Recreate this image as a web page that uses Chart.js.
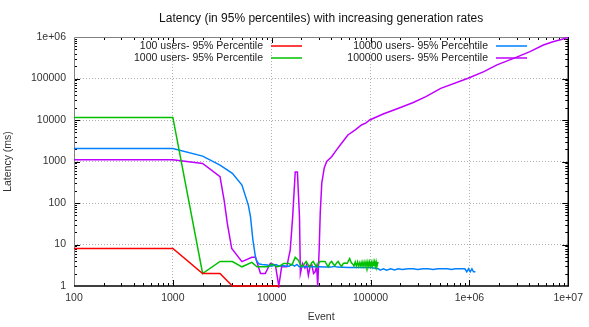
<!DOCTYPE html>
<html lang="en">
<head>
<meta charset="UTF-8">
<title>Latency</title>
<script src="https://cdn.jsdelivr.net/npm/chart.js"></script>
<style>
  html, body { margin: 0; padding: 0; background: #fff; }
  #wrap { width: 589px; height: 327px; }
</style>
</head>
<body>
<div id="wrap"><canvas id="myChart" width="589" height="327"></canvas></div>
<script>
// tick values and labels
var xTicks = [100, 1000, 10000, 100000, 1000000, 10000000];
var xTickLabels = ['100', '1000', '10000', '100000', '1e+06', '1e+07'];
var yTicks = [1, 10, 100, 1000, 10000, 100000, 1000000];
var yTickLabels = ['1', '10', '100', '1000', '10000', '100000', '1e+06'];

var seriesNames = ['100 users- 95% Percentile', '1000 users- 95% Percentile',
                   '10000 users- 95% Percentile', '100000 users- 95% Percentile'];

// 100 users
var redX = [100, 1000, 2000, 3000, 4000, 5000, 6000, 7000, 8000, 9000, 10000, 11000, 12000];
var redY = [8, 8, 2, 2, 1, 1, 1, 1, 1, 1, 1, 1, 1];

// 1000 users
var greenX = [100, 1000, 2000, 3000, 4000, 5000, 6300, 7100, 8000, 9300, 10000, 11200, 12000, 13200,
  14800, 16000, 17300, 18600, 20000, 21000, 22300, 23300, 24300, 25300, 26300, 27400, 28500, 29700,
  30900, 32700, 34600, 36000, 37300, 38800, 40400, 42000, 43600, 45300, 47000, 49000, 51000, 53000,
  55000, 58000, 61500, 64000, 66000, 68000, 70000, 72000, 74000, 76000, 78000, 80000, 82000, 84000,
  86000, 88000, 90000, 92000, 94000, 96000, 98000, 100000, 102000, 104000, 106000, 108000, 110000,
  112000, 114000, 116000, 119000];
var greenY = [11500, 11500, 2, 3.9, 3.9, 2.9, 3.7, 2.9, 2.9, 2.9, 3.4, 2.9, 3.0, 3.5,
  3.5, 3.2, 4.9, 4.2, 2.9, 3.2, 3.9, 3.3, 2.9, 3.6, 3.9, 3.3, 2.9, 3.5,
  3.9, 3.9, 3.9, 3.3, 2.9, 3.6, 3.9, 3.4, 3.1, 3.6, 3.9, 3.3, 3.0, 3.5,
  3.6, 3.5, 4.6, 3.6, 3.4, 3.0, 3.8, 3.0, 3.8, 3.0, 3.7, 3.0, 3.8, 3.0,
  3.8, 3.0, 3.8, 3.0, 3.8, 3.0, 3.8, 3.0, 3.7, 3.0, 3.8, 3.0, 3.8,
  3.0, 3.8, 3.0, 3.8];

// 10000 users
var blueX = [100, 1000, 2000, 3000, 4000, 5000, 5800, 6100, 6450, 6850, 7100, 7500, 8000, 9000,
  10000, 11000, 12000, 13000, 14000, 15000, 16000, 17000, 18000, 19000, 20000, 25000, 30000, 35000,
  40000, 43000, 46000, 60000, 80000, 100000, 120000, 125000, 135000, 145000, 160000, 175000, 190000,
  210000, 240000, 270000, 300000, 340000, 380000, 430000, 480000, 540000, 600000, 660000, 720000,
  780000, 840000, 900000, 940000, 980000, 1020000, 1060000, 1100000, 1150000];
var blueY = [2050, 2050, 1350, 820, 520, 270, 89, 47, 13, 5, 3.85, 3.4, 3.3, 3.2,
  3.0, 3.3, 3.0, 3.1, 3.0, 3.0, 3.3, 3.0, 3.3, 2.9, 2.9, 2.9, 2.9, 2.85,
  2.85, 3.0, 2.85, 2.8, 2.8, 2.8, 2.6, 2.4, 2.6, 2.4, 2.6, 2.45, 2.6,
  2.5, 2.6, 2.6, 2.5, 2.6, 2.6, 2.5, 2.6, 2.6, 2.6, 2.5, 2.6,
  2.6, 2.6, 2.6, 2.2, 2.6, 2.2, 2.6, 2.2, 2.2];

// 100000 users
var purpleX = [100, 1000, 2000, 3000, 3300, 3560, 3940, 5000, 6300, 6850, 7700, 8600, 9700, 10900,
  11800, 12600, 14200, 15400, 16300, 17300, 18200, 19100, 19500, 20500, 21700, 22600, 23500, 24500,
  25500, 26500, 27500, 28500, 29200, 30200, 31000, 32100, 34000, 36000, 40400, 45300, 50000, 59000,
  70000, 81000, 90000, 98000, 134000, 189000, 267000, 363000, 513000, 955000, 1400000, 1900000,
  2800000, 4100000, 5600000, 7000000, 8500000, 9300000, 10000000];
var purpleY = [1100, 1100, 900, 430, 118, 32, 8, 3.85, 4.9, 4.9, 2, 2, 3.5, 3.2,
  1, 2.9, 2.9, 7.4, 47, 560, 560, 47, 2, 3.5, 2.7, 3.3, 1.8, 3.0,
  3.2, 2.0, 2.2, 3.0, 1, 7.4, 60, 300, 700, 1000, 1300, 1900, 2600, 4350,
  5800, 7600, 8500, 10000, 13900, 19000, 26000, 36500, 58000, 100000, 146000, 213000,
  306000, 445000, 640000, 770000, 870000, 930000, 1000000];

var lineColors = ['#ff0000', '#00c000', '#0080ff', '#c000ff'];
var fontFamily = "'Liberation Sans', Arial, sans-serif";

function pts(xs, ys) {
  return xs.map(function (x, i) { return { x: x, y: ys[i] }; });
}

var allX = [redX, greenX, blueX, purpleX];
var allY = [redY, greenY, blueY, purpleY];
var datasets = seriesNames.map(function (name, i) {
  return {
    label: name,
    data: pts(allX[i], allY[i]),
    borderColor: lineColors[i],
    backgroundColor: lineColors[i],
    borderWidth: 1.5,
    pointRadius: 0,
    tension: 0,
    fill: false,
    clip: { left: 0, top: 0, right: 0, bottom: 2 }
  };
});

// frame + gnuplot style ticks
var framePlugin = {
  id: 'frame',
  beforeDatasetsDraw: function (chart) {
    var ctx = chart.ctx, a = chart.chartArea;
    var xs = chart.scales.x, ys = chart.scales.y;
    ctx.save();
    ctx.strokeStyle = '#000';
    ctx.lineWidth = 1;
    var d, k, p;
    for (d = 100; d < 1e7; d *= 10) {
      for (k = 1; k < 10; k++) {
        var len = k === 1 ? 6 : 3;
        p = Math.round(xs.getPixelForValue(d * k)) + 0.5;
        if (k === 1 && d === 100) continue;
        ctx.beginPath();
        ctx.moveTo(p, a.bottom); ctx.lineTo(p, a.bottom - len);
        ctx.moveTo(p, a.top); ctx.lineTo(p, a.top + len);
        ctx.stroke();
      }
    }
    for (d = 1; d < 1e6; d *= 10) {
      for (k = 1; k < 10; k++) {
        var len2 = k === 1 ? 6 : 3;
        if (k === 1 && d === 1) continue;
        p = Math.round(ys.getPixelForValue(d * k)) + 0.5;
        ctx.beginPath();
        ctx.moveTo(a.left, p); ctx.lineTo(a.left + len2, p);
        ctx.moveTo(a.right, p); ctx.lineTo(a.right - len2, p);
        ctx.stroke();
      }
    }
    ctx.strokeStyle = '#808080';
    ctx.beginPath();
    ctx.moveTo(a.left + 0.5, a.bottom); ctx.lineTo(a.left + 0.5, a.top + 0.5); ctx.lineTo(a.right, a.top + 0.5);
    ctx.stroke();
    ctx.strokeStyle = '#000';
    ctx.lineWidth = 1.5;
    ctx.beginPath();
    ctx.moveTo(a.left, a.bottom); ctx.lineTo(a.right, a.bottom); ctx.lineTo(a.right, a.top);
    ctx.stroke();
    ctx.restore();
  }
};

// two column legend, text right aligned with the sample line to its right
var legendPlugin = {
  id: 'gpLegend',
  afterDatasetsDraw: function (chart) {
    var ctx = chart.ctx, a = chart.chartArea;
    ctx.save();
    ctx.font = '10.5px ' + fontFamily;
    ctx.textAlign = 'right';
    ctx.textBaseline = 'middle';
    chart.data.datasets.forEach(function (ds, i) {
      var col = Math.floor(i / 2), row = i % 2;
      var textRight = a.left + 189 + col * 225;
      var y = a.top + 9 + row * 12;
      ctx.fillStyle = '#222';
      ctx.fillText(ds.label, textRight, y);
      ctx.strokeStyle = ds.borderColor;
      ctx.lineWidth = 1.5;
      ctx.beginPath();
      ctx.moveTo(textRight + 8, y);
      ctx.lineTo(textRight + 39, y);
      ctx.stroke();
    });
    ctx.restore();
  }
};

var config = {
  type: 'line',
  data: { datasets: datasets },
  options: {
    responsive: false,
    animation: false,
    layout: { padding: { left: 0, right: 16, top: 0, bottom: 0 } },
    plugins: {
      legend: { display: false },
      tooltip: { enabled: false },
      title: {
        display: true,
        fullSize: false,
        text: 'Latency (in 95% percentiles) with increasing generation rates',
        color: '#111',
        font: { family: fontFamily, size: 12, weight: 'normal' },
        padding: { top: 11, bottom: 11.6 }
      }
    },
    scales: {
      x: {
        type: 'logarithmic',
        min: 100,
        max: 10000000,
        afterBuildTicks: function (s) { s.ticks = xTicks.map(function (v) { return { value: v }; }); },
        afterFit: function (s) { s.height = 41; },
        ticks: {
          autoSkip: false, maxRotation: 0, padding: 6, color: '#333',
          font: { family: fontFamily, size: 10.5 },
          callback: function (v, i) { return xTickLabels[i]; }
        },
        grid: {
          drawTicks: false,
          lineWidth: 1,
          color: function (c) {
            if (!c.tick || c.tick.value === 100 || c.tick.value === 10000000) return 'rgba(0,0,0,0)';
            return '#b0b0b0';
          }
        },
        border: { display: false, dash: [1, 2] },
        title: {
          display: true, text: 'Event', color: '#333',
          font: { family: fontFamily, size: 10.5 },
          padding: { top: 0, bottom: 4 }
        }
      },
      y: {
        type: 'logarithmic',
        min: 1,
        max: 1000000,
        afterBuildTicks: function (s) { s.ticks = yTicks.map(function (v) { return { value: v }; }); },
        afterFit: function (s) { s.width = 74; },
        ticks: {
          autoSkip: false, padding: 8, color: '#333',
          font: { family: fontFamily, size: 10.5 },
          callback: function (v, i) { return yTickLabels[i]; }
        },
        grid: {
          drawTicks: false,
          lineWidth: 1,
          color: function (c) {
            if (!c.tick || c.tick.value === 1 || c.tick.value === 1000000) return 'rgba(0,0,0,0)';
            return '#b0b0b0';
          }
        },
        border: { display: false, dash: [1, 2] },
        title: {
          display: true, text: 'Latency (ms)', color: '#333',
          font: { family: fontFamily, size: 10.5 },
          padding: { top: 2, bottom: 0 }
        }
      }
    }
  },
  plugins: [framePlugin, legendPlugin]
};

var ctx = document.getElementById('myChart').getContext('2d');
window.myChart = new Chart(ctx, config);
</script>
</body>
</html>
